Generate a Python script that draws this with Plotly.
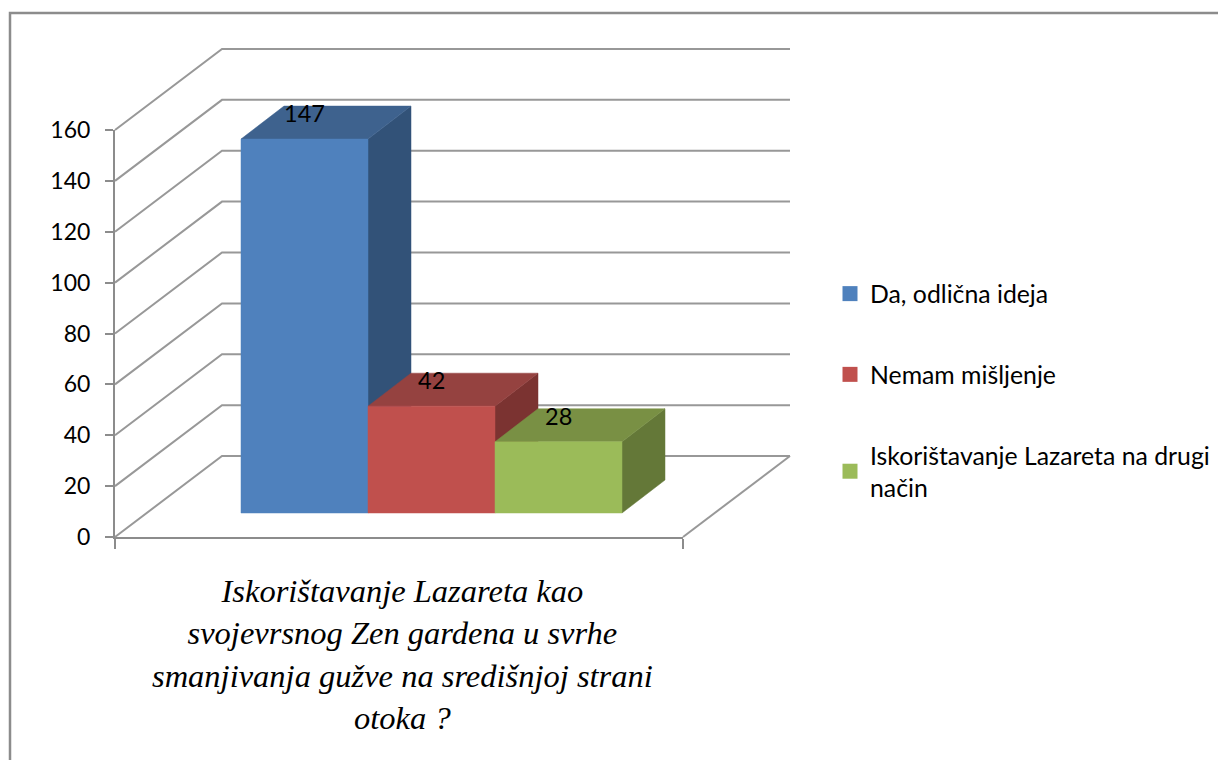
import plotly.graph_objects as go

# ---- data ----
series_names = ["Da, odlična ideja", "Nemam mišljenje", "Iskorištavanje Lazareta na drugi<br>način"]
series_values = [147, 42, 28]
y_ticks = [0, 20, 40, 60, 80, 100, 120, 140, 160]
title_text = ("Iskorištavanje Lazareta kao<br>svojevrsnog Zen gardena u svrhe<br>"
              "smanjivanja gužve na središnjoj strani<br>otoka ?")
front_colors = ["#4F81BD", "#C0504D", "#9BBB59"]
top_colors = ["#3E628E", "#954240", "#799044"]
side_colors = ["#325278", "#7B3331", "#647838"]

# ---- page geometry (pixels in the window; the page body has an 8 px margin) ----
PAGE_W, PAGE_H, OFF = 1226, 760, 8
FW, FH = PAGE_W, PAGE_H
L, R, T, B = 115, 683, 130, 537
PX_PER_UNIT = (B - T) / 160
GRID = "#989898"
AXIS = "#8C8C8C"

def py(v_px):
    return v_px / PX_PER_UNIT

def paper_x(px):
    return (px - OFF) / FW

def paper_y(px):
    return 1 - (px - OFF) / FH

# oblique projection: wall depth, bar depth, bar front position
WALL_DX, WALL_DY = 107, py(81)
BAR_DX, BAR_DY = 43, py(33)
BAR_X0, BAR_W = 241, 127
BAR_FLOOR = py(24)

fig = go.Figure()

def poly(xs, ys, color):
    fig.add_trace(go.Scatter(x=xs, y=ys, xaxis="x2", yaxis="y2", mode="lines", fill="toself",
                             fillcolor=color, line=dict(color=color, width=0.5),
                             showlegend=False, hoverinfo="skip"))

def line(xs, ys, color=GRID, width=2):
    fig.add_trace(go.Scatter(x=xs, y=ys, xaxis="x2", yaxis="y2", mode="lines",
                             line=dict(color=color, width=width),
                             showlegend=False, hoverinfo="skip"))

# chart frame (runs past the page on the right and bottom)
line([10, 10, PAGE_W + 20], [py(B - (PAGE_H + 20)), py(B - 13), py(B - 13)], AXIS, 2.5)

# walls and floor
for v in y_ticks:
    line([L, L + WALL_DX, R + WALL_DX], [v, v + WALL_DY, v + WALL_DY])
line([R + WALL_DX, R], [WALL_DY, 0])

# bars
annots = []
for i, v in enumerate(series_values):
    x0 = BAR_X0 + i * BAR_W
    x1 = x0 + BAR_W
    y0 = BAR_FLOOR
    y1 = BAR_FLOOR + v
    poly([x1, x1 + BAR_DX, x1 + BAR_DX, x1, x1],
         [y0, y0 + BAR_DY, y1 + BAR_DY, y1, y0], side_colors[i])
    poly([x0, x0 + BAR_DX, x1 + BAR_DX, x1, x0],
         [y1, y1 + BAR_DY, y1 + BAR_DY, y1, y1], top_colors[i])
    poly([x0, x1, x1, x0, x0], [y0, y0, y1, y1, y0], front_colors[i])
    annots.append(dict(x=(x0 + x1) / 2, y=y1 + py(26), xref="x2", yref="y2", text=str(v),
                       showarrow=False, font=dict(family="Lato", size=23.5, color="#000000"),
                       xanchor="center", yanchor="middle"))

# legend entries (these also give the visible axes their subplot)
for i, name in enumerate(series_names):
    fig.add_trace(go.Scatter(x=[None], y=[None], mode="markers", name=name,
                             legendgroup=f"g{i}",
                             marker=dict(symbol="square", size=15, color=front_colors[i])))

annots.append(dict(x=402, y=py(B - 654), xref="x2", yref="y2", text=title_text, showarrow=False,
                   align="center", xanchor="center", yanchor="middle",
                   font=dict(family="Liberation Serif", size=32.5, color="#000000", style="italic")))

fig.update_layout(
    width=FW, height=FH, autosize=False,
    margin=dict(l=0, r=0, t=0, b=0, pad=0, autoexpand=False),
    paper_bgcolor="#FFFFFF", plot_bgcolor="rgba(0,0,0,0)",
    font=dict(family="Lato", size=23, color="#000000"),
    showlegend=True,
    legend=dict(x=paper_x(830), y=paper_y(271), xanchor="left", yanchor="top",
                tracegroupgap=45.5, bgcolor="rgba(0,0,0,0)", font=dict(family="Lato", size=24.8),
                itemclick=False, itemdoubleclick=False),
    annotations=annots,
    hovermode=False,
    xaxis=dict(domain=[paper_x(L), paper_x(R)], range=[L, R], anchor="y", showgrid=False,
               zeroline=False, showline=True, linecolor=AXIS, linewidth=2, ticks="outside",
               ticklen=10, tickwidth=2, tickcolor=AXIS, tickvals=[L, R], showticklabels=False),
    yaxis=dict(domain=[paper_y(B), paper_y(T)], range=[0, 160], anchor="x", showgrid=False,
               zeroline=False, showline=True, linecolor=AXIS, linewidth=2, ticks="outside",
               ticklen=8, tickwidth=2, tickcolor=AXIS, tickvals=y_ticks, ticklabelstandoff=10,
               tickfont=dict(family="Lato", size=23, color="#000000")),
    xaxis2=dict(domain=[0, 1], range=[OFF, OFF + FW], anchor="y2", visible=False),
    yaxis2=dict(domain=[0, 1], range=[py(B - (OFF + FH)), py(B - OFF)], anchor="x2", visible=False),
)

fig.write_html("out.html")
